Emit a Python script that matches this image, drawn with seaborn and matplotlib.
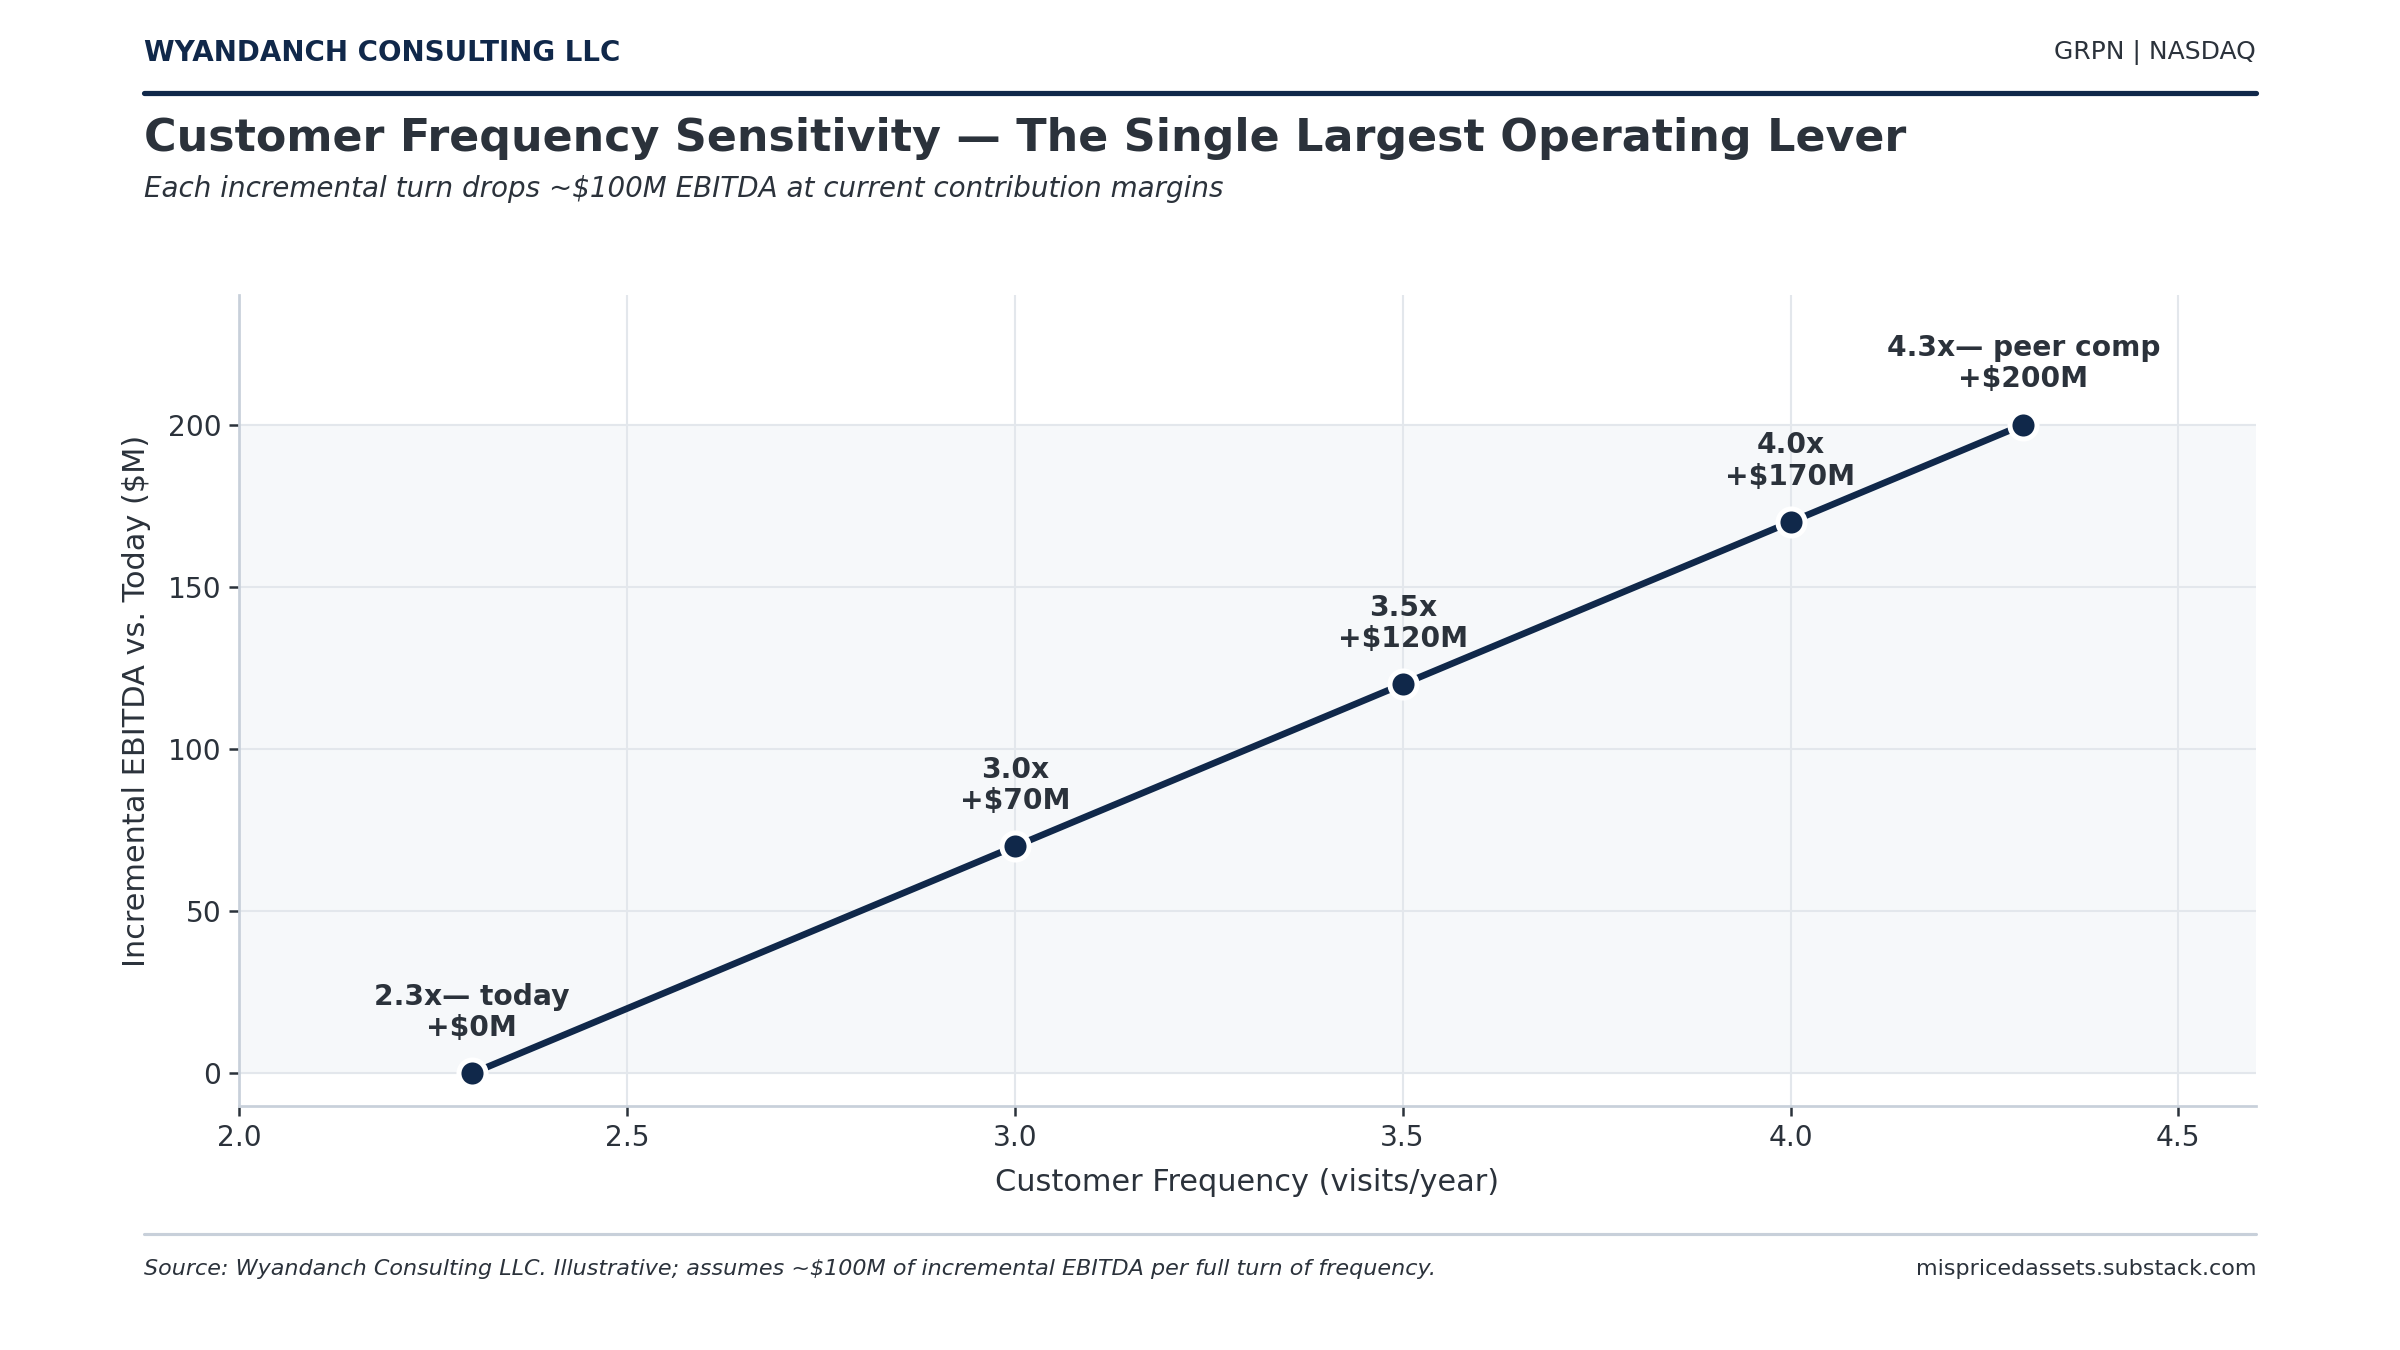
import matplotlib as mlp
mlp.use('Agg')
import matplotlib.pyplot as plt
import seaborn as sns
import pandas as pd

#>> Datos
frequency = [2.3, 3.0, 3.5, 4.0, 4.3]
ebitda = [0, 70, 120, 170, 200]
tags = ['2.3x— today', '3.0x', '3.5x', '4.0x', '4.3x— peer comp']
x_ticks = [2.0, 2.5, 3.0, 3.5, 4.0, 4.5]
y_ticks = [0, 50, 100, 150, 200]

navy = '#10284a'
txt = '#2b323b'
df = pd.DataFrame({'freq': frequency, 'ebitda': ebitda})

sns.set_theme(style='white')
plt.rcParams['font.family'] = ['DejaVu Sans']

fig = plt.figure(figsize=(16, 9), dpi=150)
ax = fig.add_axes([0.0996, 0.1808, 0.8404, 0.6007])

#>> Banda sombreada de 0 a 200
ax.axhspan(0, 200, color='#f6f8fa', zorder=0)

sns.lineplot(data=df, x='freq', y='ebitda', ax=ax, color=navy, linewidth=3.2,
             marker='o', markersize=13, markeredgecolor='white', markeredgewidth=2.4, zorder=3)

for f, e, t in zip(frequency, ebitda, tags):
    ax.annotate(f'{t}\n+${e}M', xy=(f, e), xytext=(0, 15), textcoords='offset points',
                ha='center', va='bottom', fontsize=13.5, fontweight='bold', color=txt,
                linespacing=1.15, zorder=4)

ax.set_xlim(2.0, 4.6)
ax.set_ylim(-10, 240)
ax.set_xticks(x_ticks)
ax.set_xticklabels([f'{v:.1f}' for v in x_ticks])
ax.set_yticks(y_ticks)
ax.grid(True, color='#e3e7ec', linewidth=1, zorder=1)
ax.set_axisbelow(True)
ax.tick_params(axis='both', labelsize=13.5, colors=txt, length=5, width=1.2, direction='out',
               bottom=True, left=True)
for s in ['top', 'right']:
    ax.spines[s].set_visible(False)
for s in ['left', 'bottom']:
    ax.spines[s].set_color('#c8d0da')
    ax.spines[s].set_linewidth(1.3)
ax.set_xlabel('Customer Frequency (visits/year)', fontsize=14.6, color=txt, labelpad=8)
ax.set_ylabel('Incremental EBITDA vs. Today ($M)', fontsize=14.6, color=txt, labelpad=8)

#>> Encabezado y pie
fig.text(0.06, 0.961, 'WYANDANCH CONSULTING LLC', fontsize=13.3, fontweight='bold', color=navy, va='center')
fig.text(0.94, 0.961, 'GRPN | NASDAQ', fontsize=12, color=txt, va='center', ha='right')
fig.add_artist(plt.Line2D([0.06, 0.94], [0.9308, 0.9308], color=navy, linewidth=2.5))
fig.text(0.06, 0.8975, 'Customer Frequency Sensitivity — The Single Largest Operating Lever',
         fontsize=21.3, fontweight='bold', color=txt, va='center')
fig.text(0.06, 0.8598, 'Each incremental turn drops ~$100M EBITDA at current contribution margins',
         fontsize=13.3, style='italic', color=txt, va='center')
fig.add_artist(plt.Line2D([0.06, 0.94], [0.0857, 0.0857], color='#c8d0da', linewidth=1.5))
fig.text(0.06, 0.06, 'Source: Wyandanch Consulting LLC. Illustrative; assumes ~$100M of incremental EBITDA per full turn of frequency.',
         fontsize=10.7, style='italic', color=txt, va='center')
fig.text(0.94, 0.06, 'mispricedassets.substack.com', fontsize=10.7, color=txt, va='center', ha='right')

fig.savefig('out.png', dpi=150, facecolor='white')
